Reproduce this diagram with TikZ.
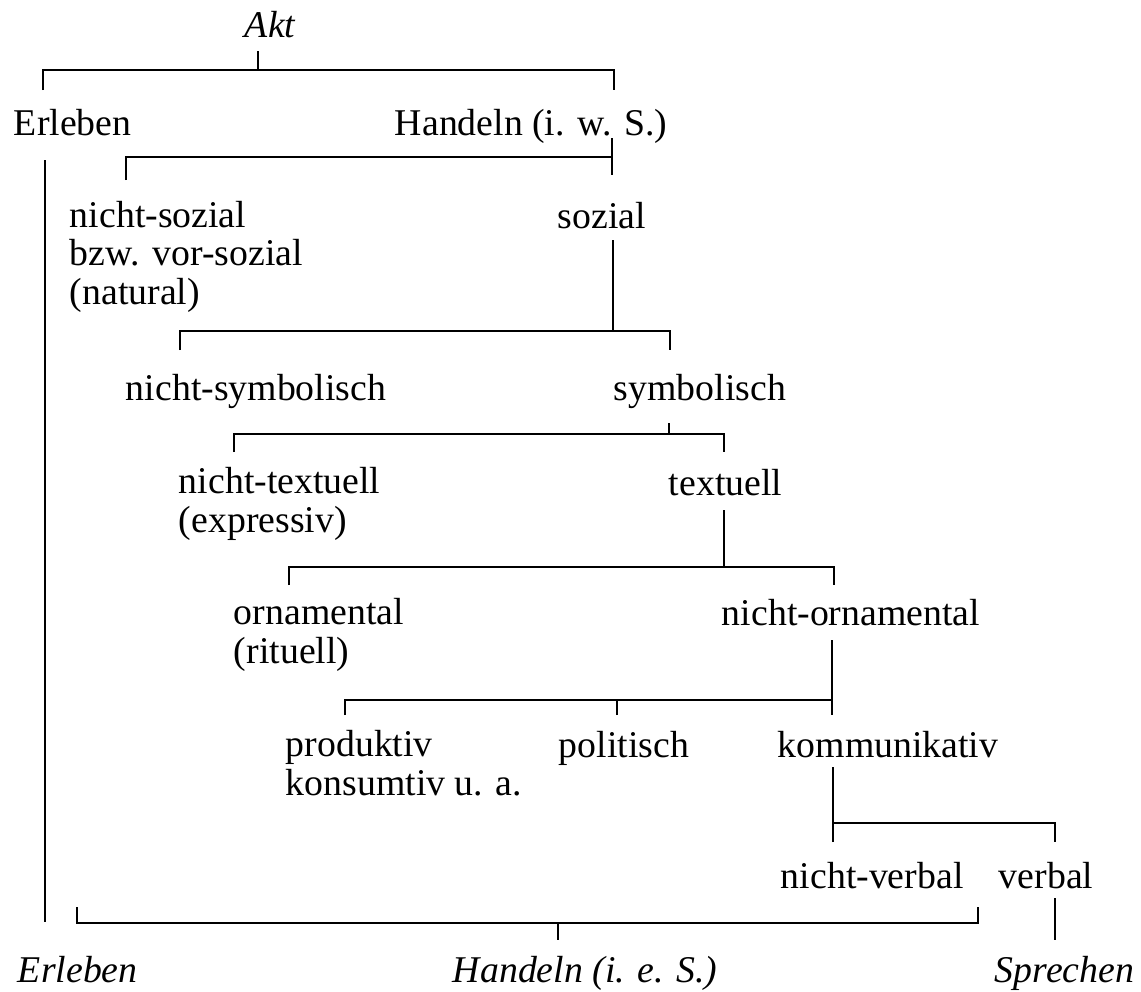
\documentclass[tikz,border=0pt]{standalone}
\usepackage{fontspec}
\setmainfont{Liberation Serif}
\tikzset{
  lbl/.style={inner sep=0pt, anchor=base west, align=left,
    font=\fontsize{21.5}{21.8}\selectfont},
  ital/.style={lbl, font=\fontsize{21.5}{21.8}\selectfont\itshape}
}
\begin{document}
\begin{tikzpicture}[x=0.02cm, y=-0.02cm, line width=1.1pt]
      \useasboundingbox (0,0) rectangle (1141,991);
      % multi-line labels are placed by their last line
      \draw
        (244,37) node[ital] (akt){Akt}
        (13,135) node[lbl] (erl){Erleben}
        (394,135) node[lbl] (hiws){Handeln (i. w. S.)}
        (69,304) node[lbl] (nsoz){nicht-sozial\\bzw. vor-sozial\\(natural)}
        (557,228) node[lbl] (soz){sozial}
        (125,400) node[lbl] (nsym){nicht-symbolisch}
        (613,400) node[lbl] (sym){symbolisch}
        (178,532) node[lbl] (ntex){nicht-textuell\\(expressiv)}
        (668,495) node[lbl] (tex){textuell}
        (233,663) node[lbl] (orn){ornamental\\(rituell)}
        (721,625) node[lbl] (norn){nicht-ornamental}
        (285,795) node[lbl] (prod){produktiv\\konsumtiv u. a.}
        (558,757) node[lbl] (pol){politisch}
        (777,757) node[lbl] (komm){kommunikativ}
        (780,888) node[lbl] (nverb){nicht-verbal}
        (998,888) node[lbl] (verb){verbal}
        (17,982) node[ital] (erl2){Erleben}
        (452,982) node[ital] (hies){Handeln (i. e. S.)}
        (994,982) node[ital] (spr){Sprechen};
      % stems and bracket corners
      \coordinate (akt-s) at (258,51);   \coordinate (akt-j) at (258,70);
      \coordinate (erl-t) at (43,90);    \coordinate (hiws-t) at (614,90);
      \coordinate (hiws-s) at (612,138); \coordinate (hiws-j) at (612,157);
      \coordinate (nsoz-t) at (126,180); \coordinate (soz-t) at (612,175);
      \coordinate (soz-s) at (613,240);  \coordinate (soz-j) at (613,331);
      \coordinate (nsym-t) at (180,350); \coordinate (sym-t) at (670,350);
      \coordinate (sym-s) at (669,423);  \coordinate (sym-j) at (669,434);
      \coordinate (ntex-t) at (234,452); \coordinate (tex-t) at (724,452);
      \coordinate (tex-s) at (724,510);  \coordinate (tex-j) at (724,567);
      \coordinate (orn-t) at (289,585);  \coordinate (norn-t) at (834,585);
      \coordinate (norn-s) at (832,640); \coordinate (norn-j) at (832,700);
      \coordinate (prod-t) at (345,715); \coordinate (pol-t) at (617,715);
      \coordinate (komm-t) at (832,715);
      \coordinate (komm-s) at (833,767); \coordinate (komm-j) at (833,823);
      \coordinate (nverb-t) at (833,842); \coordinate (verb-t) at (1055,842);
      \coordinate (erl-b) at (45,160);   \coordinate (erl2-t) at (45,922);
      \coordinate (hd-l) at (77,907);    \coordinate (hd-r) at (978,907);
      \coordinate (hies-j) at (558,923); \coordinate (hies-t) at (558,940);
      \coordinate (verb-b) at (1055,898); \coordinate (spr-t) at (1055,940);
      \begin{scope}[-]
        \draw (akt-s) to (akt-j);
        \draw (erl-t) |- (akt-j) -| (hiws-t);
        \draw (hiws-s) to (soz-t);
        \draw (nsoz-t) |- (hiws-j);
        \draw (soz-s) to (soz-j);
        \draw (nsym-t) |- (soz-j) -| (sym-t);
        \draw (sym-s) to (sym-j);
        \draw (ntex-t) |- (sym-j) -| (tex-t);
        \draw (tex-s) to (tex-j);
        \draw (orn-t) |- (tex-j) -| (norn-t);
        \draw (norn-s) to (norn-j);
        \draw (prod-t) |- (norn-j) -- (komm-t);
        \draw (pol-t) to (pol-t |- norn-j);
        \draw (komm-s) to (komm-j);
        \draw (nverb-t) |- (komm-j) -| (verb-t);
        \draw (erl-b) to (erl2-t);
        \draw (hd-l) |- (hies-j) -| (hd-r);
        \draw (hies-j) to (hies-t);
        \draw (verb-b) to (spr-t);
      \end{scope}
    \end{tikzpicture}
\end{document}
